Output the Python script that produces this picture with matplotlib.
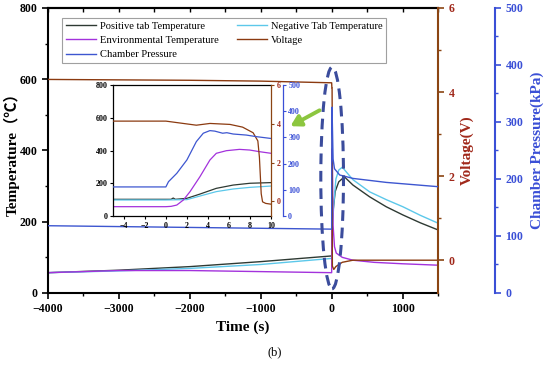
import matplotlib
matplotlib.use("Agg")
import matplotlib.pyplot as plt
from matplotlib.patches import Ellipse, FancyArrowPatch
from matplotlib.ticker import MultipleLocator

# ---------------- data (main plot) ----------------
pos_t = [-4000, -3000, -2000, -1000, 0, 10, 20, 50, 100, 180, 300, 535, 770, 1005, 1250, 1500]
pos_T = [57, 64, 74, 88, 104, 204, 230, 285, 312, 326, 303, 270, 242, 219, 197, 177]

neg_t = [-4000, -3000, -2000, -1000, 0, 10, 30, 60, 100, 150, 300, 535, 770, 1005, 1250, 1500]
neg_T = [57, 62, 69, 80, 97, 183, 250, 320, 345, 353, 318, 284, 262, 242, 218, 196]

env_t = [-4000, -3000, -2000, -1000, 0, 2, 5, 8, 10, 20, 40, 65, 150, 300, 600, 1000, 1500]
env_T = [57, 63, 63, 60, 57, 98, 390, 405, 383, 190, 130, 112, 100, 92, 86, 82, 78]

volt_t = [-4000, -2000, -1000, 0, 3, 6, 8.5, 9.1, 10, 30, 60, 150, 300, 600, 1500]
volt_V = [4.30, 4.28, 4.26, 4.22, 4.1, 4.1, 3.2, 0.2, -0.14, -0.22, -0.15, -0.05, 0.0, 0.0, 0.0]

pres_t = [-4000, -2000, 0, 1, 2, 3, 4.5, 6, 8, 10, 20, 40, 113, 300, 770, 1500]
pres_P = [118, 115, 112, 163, 214, 290, 326, 316, 306, 296, 235, 218, 207, 201, 194, 186.5]

# ---------------- data (inset) ----------------
ins_pos_t = [-5, 0, 0.5, 0.7, 0.9, 2, 3.24, 4.8, 6.4, 8, 10]
ins_pos_T = [102, 102, 102, 110, 102, 108, 134, 169, 189, 200, 204]
ins_neg_t = [-5, 0, 2, 3.24, 4.8, 6.4, 8, 10]
ins_neg_T = [98, 98, 100, 122, 149, 165, 175, 183]
ins_env_t = [-5, 0, 0.5, 1.04, 1.67, 2.3, 3.24, 4.19, 4.8, 5.76, 7.0, 7.97, 8.9, 10]
ins_env_T = [57, 57, 59, 67, 98, 149, 240, 342, 383, 399, 407, 403, 393, 383]
ins_volt_t = [-5, 0, 2.9, 4.2, 6.1, 7.3, 8.3, 8.75, 8.9, 9.07, 9.2, 9.5, 10]
ins_volt_V = [4.14, 4.14, 3.93, 4.02, 3.97, 3.83, 3.54, 3.12, 2.27, 0.4, -0.02, -0.1, -0.14]
ins_pres_t = [-5, 0, 0.25, 1.04, 2.0, 2.9, 3.56, 4.19, 4.66, 5.4, 5.8, 6.4, 7.65, 8.6, 10]
ins_pres_P = [111, 111, 131, 163, 214, 284, 316, 326, 324, 316, 318, 313, 309, 303, 296]

labels = ["Positive tab Temperature", "Environmental Temperature", "Chamber Pressure",
          "Negative Tab Temperature", "Voltage"]

C_POS = "#2e3a33"
C_NEG = "#5cc8ea"
C_ENV = "#a332dc"
C_VOLT = "#8b3a10"
C_PRES = "#3d56d0"
C_VAX = "#8b4513"
C_VLAB = "#a0281a"
C_PAX = "#3a4fd6"

SERIF = ["Liberation Serif", "Noto Sans CJK SC", "DejaVu Serif"]
plt.rcParams["font.family"] = SERIF

fig = plt.figure(figsize=(5.5, 3.66), dpi=100)
ax = fig.add_axes([0.0873, 0.1995, 0.7091, 0.7787])
axv = ax.twinx()
axp = ax.twinx()

l1, = ax.plot(pos_t, pos_T, color=C_POS, lw=1.0)
l4, = ax.plot(neg_t, neg_T, color=C_NEG, lw=1.0)
l2, = ax.plot(env_t, env_T, color=C_ENV, lw=1.0)
l5, = axv.plot(volt_t, volt_V, color=C_VOLT, lw=1.0)
l3, = axp.plot(pres_t, pres_P, color=C_PRES, lw=1.0)

ax.set_xlim(-4000, 1500)
ax.set_ylim(0, 800)
axv.set_ylim(-0.78, 6)
axp.set_ylim(0, 500)

ax.xaxis.set_major_locator(MultipleLocator(1000))
ax.xaxis.set_minor_locator(MultipleLocator(500))
ax.yaxis.set_major_locator(MultipleLocator(200))
ax.yaxis.set_minor_locator(MultipleLocator(100))
axv.yaxis.set_major_locator(MultipleLocator(2))
axv.yaxis.set_minor_locator(MultipleLocator(1))
axp.yaxis.set_major_locator(MultipleLocator(100))
axp.yaxis.set_minor_locator(MultipleLocator(50))

ax.tick_params(axis="both", which="major", direction="out", length=4, width=1.2, labelsize=8.5)
ax.tick_params(axis="both", which="minor", direction="out", length=2.5, width=1.0)
for lab in ax.get_xticklabels() + ax.get_yticklabels():
    lab.set_fontweight("bold")

sec = ax.secondary_xaxis("top")
sec.xaxis.set_major_locator(MultipleLocator(500))
sec.tick_params(direction="in", length=3, width=1.0, labeltop=False)
sec.spines["top"].set_linewidth(1.5)

for s in ["left", "bottom", "top"]:
    ax.spines[s].set_linewidth(1.5)
ax.spines["right"].set_visible(False)

for s in ["left", "bottom", "top"]:
    axv.spines[s].set_visible(False)
axv.spines["right"].set_color(C_VAX)
axv.spines["right"].set_linewidth(1.5)
axv.tick_params(axis="y", which="major", colors=C_VAX, direction="out", length=4, width=1.2, labelsize=8.5)
axv.tick_params(axis="y", which="minor", colors=C_VAX, direction="out", length=2.5, width=1.0)
for lab in axv.get_yticklabels():
    lab.set_fontweight("bold")
    lab.set_color(C_VLAB)

for s in ["left", "bottom", "top"]:
    axp.spines[s].set_visible(False)
axp.spines["right"].set_position(("axes", 1.146))
axp.spines["right"].set_color(C_PAX)
axp.spines["right"].set_linewidth(1.5)
axp.tick_params(axis="y", which="major", colors=C_PAX, direction="out", length=4, width=1.2, labelsize=8.5)
axp.tick_params(axis="y", which="minor", colors=C_PAX, direction="out", length=2.5, width=1.0)
for lab in axp.get_yticklabels():
    lab.set_fontweight("bold")

ax.set_xlabel("Time (s)", fontsize=11, fontweight="bold", labelpad=4)
ax.set_ylabel("Temperature（℃）", fontsize=11, fontweight="bold")
ax.yaxis.set_label_coords(-0.093, 0.5)
ax.yaxis.label.set_va("center")
axv.set_ylabel("Voltage(V)", fontsize=11, fontweight="bold", color=C_VLAB)
axv.yaxis.set_label_coords(1.074, 0.5)
axv.yaxis.label.set_va("center")
axp.set_ylabel("Chamber Pressure(kPa)", fontsize=11, fontweight="bold", color=C_PAX)
axp.yaxis.set_label_coords(1.254, 0.5)
axp.yaxis.label.set_va("center")

# dashed ellipse around the event
ell = Ellipse((7, 323), width=320, height=622, fill=False, ls=(0, (3.5, 2.2)),
              lw=2.2, edgecolor="#3b4c9c", zorder=5)
axp.add_patch(ell)
ell.set_transform(ax.transData)

# legend
leg = axp.legend([l1, l2, l3, l4, l5], labels, ncol=2, loc="upper left",
                 bbox_to_anchor=(0.036, 0.965), borderaxespad=0.0,
                 fontsize=7.6, frameon=True, fancybox=False,
                 edgecolor="#888888", handlelength=2.9, handletextpad=0.35,
                 labelspacing=0.45, columnspacing=1.7, borderpad=0.35)
leg.get_frame().set_linewidth(0.8)
leg.set_zorder(20)

# inset
ins = fig.add_axes([0.206, 0.4098, 0.2867, 0.3579])
ins.set_zorder(10)
insv = ins.twinx()
insp = ins.twinx()
insv.set_zorder(11)
insp.set_zorder(12)
ins.plot(ins_pos_t, ins_pos_T, color=C_POS, lw=0.9)
ins.plot(ins_neg_t, ins_neg_T, color=C_NEG, lw=0.9)
ins.plot(ins_env_t, ins_env_T, color=C_ENV, lw=0.9)
insv.plot(ins_volt_t, ins_volt_V, color=C_VOLT, lw=0.9)
insp.plot(ins_pres_t, ins_pres_P, color=C_PRES, lw=0.9)
ins.set_xlim(-5, 10)
ins.set_ylim(0, 800)
insv.set_ylim(-0.75, 6)
insp.set_ylim(0, 500)
ins.xaxis.set_major_locator(MultipleLocator(2))
ins.yaxis.set_major_locator(MultipleLocator(200))
insv.yaxis.set_major_locator(MultipleLocator(2))
insp.yaxis.set_major_locator(MultipleLocator(100))
ins.tick_params(direction="out", length=2.5, width=0.8, labelsize=5.8, pad=1.5)
for lab in ins.get_xticklabels() + ins.get_yticklabels():
    lab.set_fontweight("bold")
for s in ["left", "bottom", "top"]:
    ins.spines[s].set_linewidth(0.9)
ins.spines["right"].set_visible(False)
for s in ["left", "bottom", "top"]:
    insv.spines[s].set_visible(False)
    insp.spines[s].set_visible(False)
insv.spines["right"].set_color(C_VAX)
insv.spines["right"].set_linewidth(0.9)
insv.tick_params(colors=C_VAX, direction="out", length=2.5, width=0.8, labelsize=5.8, pad=1.5)
for lab in insv.get_yticklabels():
    lab.set_fontweight("bold")
    lab.set_color(C_VLAB)
insp.spines["right"].set_position(("axes", 1.074))
insp.spines["right"].set_color(C_PAX)
insp.spines["right"].set_linewidth(0.9)
insp.tick_params(colors=C_PAX, direction="out", length=2.5, width=0.8, labelsize=5.8, pad=1.5)
for lab in insp.get_yticklabels():
    lab.set_fontweight("bold")

# green arrow
fig.patches.append(FancyArrowPatch(
    (322 / 550, 1 - 109 / 366), (288 / 550, 1 - 127.5 / 366),
    transform=fig.transFigure, arrowstyle="-|>,head_length=6,head_width=3.5",
    color="#8cc63f", lw=2.8, zorder=30))

fig.text(275 / 550, 1 - 352 / 366, "(b)", ha="center", va="center", fontsize=9)

fig.savefig("out.png", dpi=100)
